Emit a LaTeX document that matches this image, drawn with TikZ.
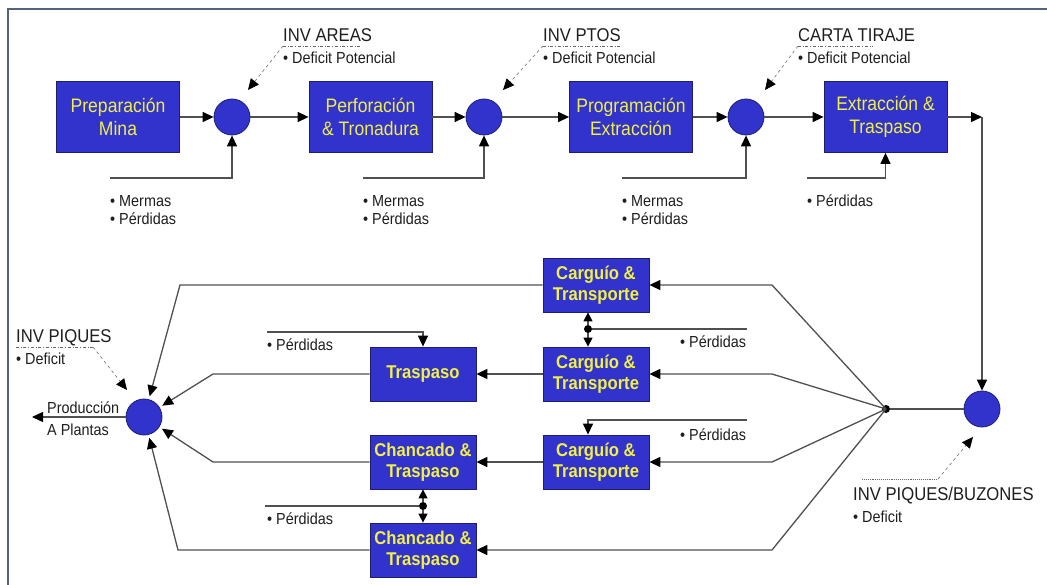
\documentclass[tikz,border=0pt]{standalone}
\usepackage{fontspec}
\setmainfont{Liberation Sans}[FakeStretch=0.9]
\usetikzlibrary{arrows.meta}
\definecolor{procblue}{RGB}{50,50,205}
\definecolor{procedge}{RGB}{30,30,110}
\definecolor{proctext}{RGB}{240,240,70}
\definecolor{flowgray}{RGB}{80,80,80}
\definecolor{framegray}{RGB}{85,100,125}
\definecolor{labeltext}{RGB}{30,30,30}
\begin{document}
\begin{tikzpicture}[x=1pt,y=-1pt,
  tip/.tip={Triangle[length=11pt,width=10pt,color=black]},
  smalltip/.tip={Triangle[length=9pt,width=9pt,color=black]},
  topbox/.style={draw=procedge, line width=0.8pt, fill=procblue, text=proctext,
    align=center, inner sep=0pt, minimum width=123pt, minimum height=71pt,
    font=\fontsize{19.5}{23}\selectfont},
  botbox/.style={draw=procedge, line width=0.8pt, fill=procblue, text=proctext,
    align=center, inner sep=0pt, minimum width=106pt, minimum height=54pt,
    font=\bfseries\fontsize{18.5}{21}\selectfont},
  junc/.style={circle, draw=procedge, line width=0.8pt, fill=procblue,
    minimum size=36pt, inner sep=0pt},
  dot/.style={circle, fill=black, inner sep=0pt, minimum size=8pt},
  flow/.style={draw=flowgray, line width=1.3pt, -tip},
  shortflow/.style={draw=flowgray, line width=1.3pt, -smalltip},
  plain/.style={draw=flowgray, line width=1.3pt},
  ann/.style={draw=gray, dashed, line width=0.7pt, -tip},
  uline/.style={draw=gray!80!black, dash dot, line width=0.8pt},
  dline/.style={draw=gray!80!black, densely dotted, line width=0.9pt},
  small/.style={font=\fontsize{16}{18}\selectfont, text=labeltext, anchor=base west, inner sep=0pt},
  head/.style={font=\fontsize{18.5}{22}\selectfont, text=labeltext, anchor=base west, inner sep=0pt}]

\fill[white] (0,0) rectangle (1047,585);
\useasboundingbox (0,0) rectangle (1047,585);
% frame
\draw[framegray, line width=2.5pt] (8,585) -- (8,9) -- (1047,9);

% ---- upper chain ----
\node[topbox] (prep) at (118,117) {Preparación\\Mina};
\node[junc]   (c1)   at (232,117) {};
\node[topbox] (perf) at (370.5,117) {Perforación\\\& Tronadura};
\node[junc]   (c2)   at (484,117) {};
\node[topbox] (prog) at (631,117) {Programación\\Extracción};
\node[junc]   (c3)   at (746,117) {};
\node[topbox] (extr) at (885.5,117) {Extracción \&\\Traspaso};
\coordinate (turn) at (982,117);
\node[junc]   (c4)   at (982,409) {};

\draw[flow] (prep) -- (c1);
\draw[flow] (c1) -- (perf);
\draw[flow] (perf) -- (c2);
\draw[flow] (c2) -- (prog);
\draw[flow] (prog) -- (c3);
\draw[flow] (c3) -- (extr);
\draw[flow] (extr) -- (turn);
\draw[flow] (turn) -- (c4);

% losses feeding the upper chain
\coordinate (m1) at (110,178);
\coordinate (m2) at (363,178);
\coordinate (m3) at (622,178);
\coordinate (m4) at (807,178);
\draw[flow] (m1) -| (c1);
\draw[flow] (m2) -| (c2);
\draw[flow] (m3) -| (c3);
\draw[flow] (m4) -| (extr);
\node[small] (m1a) at (110,207) {• Mermas};
\node[small] (m1b) at (110,225) {• Pérdidas};
\node[small] (m2a) at (363,207) {• Mermas};
\node[small] (m2b) at (363,225) {• Pérdidas};
\node[small] (m3a) at (622,207) {• Mermas};
\node[small] (m3b) at (622,225) {• Pérdidas};
\node[small] (m4a) at (807,207) {• Pérdidas};

% inventory notes
\node[head]  (invA)  at (283,42) {INV AREAS};
\node[small] (invAd) at (283,64) {• Deficit Potencial};
\coordinate (uA) at (283,46);  \coordinate (uAe) at (360,46);  \coordinate (aA) at (248,90);
\draw[uline] (uA) -- (uAe);
\draw[ann] (uA) -- (aA);

\node[head]  (invP)  at (543,42) {INV PTOS};
\node[small] (invPd) at (543,64) {• Deficit Potencial};
\coordinate (uP) at (543,46);  \coordinate (uPe) at (620,46);  \coordinate (aP) at (503,90);
\draw[uline] (uP) -- (uPe);
\draw[ann] (uP) -- (aP);

\node[head]  (carta)  at (798,42) {CARTA TIRAJE};
\node[small] (cartad) at (798,64) {• Deficit Potencial};
\coordinate (uC) at (798,46);  \coordinate (uCe) at (873,46);  \coordinate (aC) at (765,90);
\draw[uline] (uC) -- (uCe);
\draw[ann] (uC) -- (aC);

% ---- lower network ----
\node[botbox] (ct1) at (596,285) {Carguío \&\\Transporte};
\node[botbox] (ct2) at (596,374) {Carguío \&\\Transporte};
\node[botbox] (ct3) at (596,462) {Carguío \&\\Transporte};
\node[botbox] (tr)  at (423,374) {Traspaso};
\node[botbox] (ch1) at (423,462) {Chancado \&\\Traspaso};
\node[botbox] (ch2) at (423,550) {Chancado \&\\Traspaso};
\node[junc]   (c5)  at (144,417) {};
\node[dot]    (j)   at (886,409) {};

\draw[plain] (c4) -- (j);
\coordinate (f1) at (772,285);
\coordinate (f2) at (772,374);
\coordinate (f3) at (772,462);
\coordinate (f4) at (772,550);
\draw[flow] (j.center) -- (f1) -- (ct1);
\draw[flow] (j.center) -- (f2) -- (ct2);
\draw[flow] (j.center) -- (f3) -- (ct3);
\draw[flow] (j.center) -- (f4) -- (ch2);
\draw[flow] (ct2) -- (tr);
\draw[flow] (ct3) -- (ch1);

\coordinate (g1) at (180,285);
\coordinate (g2) at (213,374);
\coordinate (g3) at (213,462);
\coordinate (g4) at (178,550);
\draw[flow, shorten >=3pt] (ct1) -- (g1) -- (c5);
\draw[flow, shorten >=3pt] (tr)  -- (g2) -- (c5);
\draw[flow, shorten >=3pt] (ch1) -- (g3) -- (c5);
\draw[flow, shorten >=3pt] (ch2) -- (g4) -- (c5);

\coordinate (out) at (32,417);
\draw[flow] (c5) -- (out);
\node[small] (prod1) at (47,413) {Producción};
\node[small] (prod2) at (47,435) {A Plantas};

% losses in the lower network
\coordinate (pt) at (267,332);
\draw[flow] (pt) -| (tr);
\node[small] (ptl) at (267,351) {• Pérdidas};

\node[dot] (dch) at (423,506) {};
\coordinate (pc) at (265,506);
\draw[plain] (pc) -- (dch);
\draw[shortflow] (dch) -- (ch1);
\draw[shortflow] (dch) -- (ch2);
\node[small] (pcl) at (267,524) {• Pérdidas};

\node[dot] (dct) at (588,329) {};
\coordinate (pq) at (747,329);
\draw[plain] (pq) -- (dct);
\draw[shortflow] (dct) -- (dct |- ct1.south);
\draw[shortflow] (dct) -- (dct |- ct2.north);
\node[small] (pql) at (680,348) {• Pérdidas};

\coordinate (pr) at (747,420);
\draw[flow] (pr) -| (dct |- ct3.north);
\node[small] (prl) at (680,440) {• Pérdidas};

% pit inventories
\node[head]  (invQ)  at (16,342) {INV PIQUES};
\node[small] (invQd) at (16,364) {• Deficit};
\coordinate (uQ) at (16,347);  \coordinate (uQe) at (93,347);  \coordinate (aQ) at (127,390);
\draw[uline] (uQ) -- (uQe);
\draw[ann] (uQe) -- (aQ);

\node[head]  (invB)  at (853,500) {INV PIQUES/BUZONES};
\node[small] (invBd) at (853,522) {• Deficit};
\coordinate (uB) at (862,479);  \coordinate (uBe) at (938,479);  \coordinate (aB) at (973,437);
\draw[dline] (uB) -- (uBe);
\draw[ann] (uBe) -- (aB);
\end{tikzpicture}
\end{document}
